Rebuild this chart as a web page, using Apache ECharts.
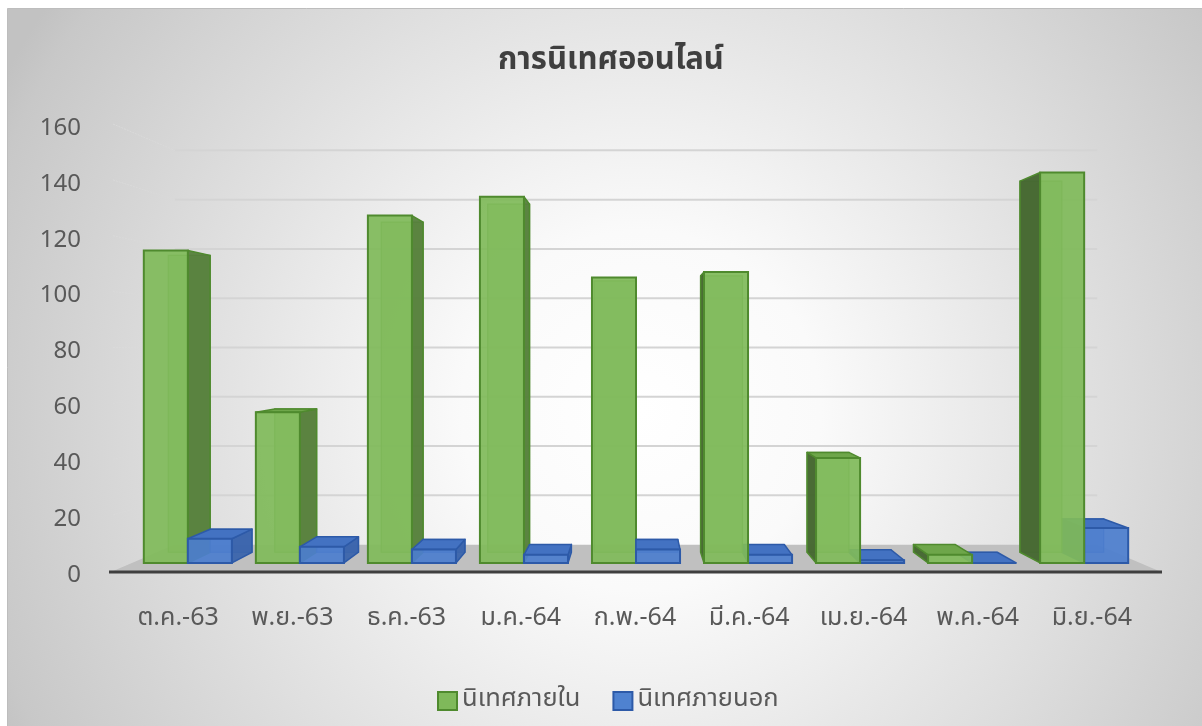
<!DOCTYPE html>
<html><head><meta charset="utf-8">
<script src="https://cdn.jsdelivr.net/npm/echarts@6/dist/echarts.min.js"></script>
<style>html,body{margin:0;padding:0;background:#fff}#c{width:1202px;height:726px}</style>
</head><body><div id="c"></div>
<script>
const chartTitle = 'การนิเทศออนไลน์';
const categories = ['ต.ค.-63','พ.ย.-63','ธ.ค.-63','ม.ค.-64','ก.พ.-64','มี.ค.-64','เม.ย.-64','พ.ค.-64','มิ.ย.-64'];
const seriesNames = ['นิเทศภายใน','นิเทศภายนอก'];
const internalValues = [116, 56, 129, 136, 106, 108, 39, 3, 145];
const externalValues = [9, 6, 5, 3, 5, 3, 1, 0, 13];
const yTicks = [0, 20, 40, 60, 80, 100, 120, 140, 160];

const FONT = "'Noto Sans Thai','Leelawadee UI',Tahoma,'Noto Sans',sans-serif";
const WALL = 0.882, FRONT = 0.964, BACK = 0.916, BAR_W = 0.393;

const palGreen = {front:'rgba(128,186,90,0.93)', side:'rgba(86,128,60,0.95)', sideR:'rgba(70,104,50,0.97)', top:'#6ea64a', back:'rgba(120,176,84,0.6)', edge:'#4f8a2e', inner:'rgba(80,140,50,0.9)'};
const palBlue  = {front:'rgba(76,126,206,0.93)', side:'rgba(58,100,172,0.95)', sideR:'rgba(50,88,160,0.97)', top:'#4372c2', back:'rgba(70,115,195,0.6)', edge:'#2d5aa8', inner:'rgba(45,90,168,0.9)'};

function proj(cs, p, s) {
  const vx = cs.x + cs.width / 2, vy = cs.y + cs.height / 2;
  return [vx + (p[0] - vx) * s, vy + (p[1] - vy) * s];
}

function boxRenderer(side, pal) {
  return function (params, api) {
    const i = api.value(0), v = api.value(1);
    const cs = params.coordSys;
    const base = api.coord([i, 0]);
    const topP = api.coord([i, v]);
    const band = api.size([1, 0])[0];
    const w = band * BAR_W;
    const x0 = side < 0 ? base[0] - w : base[0];
    const x1 = side < 0 ? base[0] : base[0] + w;
    const y0 = base[1], y1 = topP[1];
    const vx = cs.x + cs.width / 2, vy = cs.y + cs.height / 2;
    const F = p => proj(cs, p, FRONT), B = p => proj(cs, p, BACK);
    const fbl = F([x0, y0]), fbr = F([x1, y0]), ftl = F([x0, y1]), ftr = F([x1, y1]);
    const bbl = B([x0, y0]), bbr = B([x1, y0]), btl = B([x0, y1]), btr = B([x1, y1]);
    const right = base[0] > vx + 1;
    const z = (side < 0) ? (right ? 20 : 10) : (right ? 10 : 20);
    const children = [];
    children.push({type:'polygon', z2:z, shape:{points:[bbl, bbr, btr, btl]},
      style:{fill:pal.back, stroke:pal.inner, lineWidth:1.2}});
    if (x1 < vx - 0.5) {
      children.push({type:'polygon', z2:z+1, shape:{points:[fbr, ftr, btr, bbr]},
        style:{fill:pal.side, stroke:pal.edge, lineWidth:1.5, lineJoin:'round'}});
    } else if (x0 > vx + 0.5) {
      children.push({type:'polygon', z2:z+1, shape:{points:[fbl, ftl, btl, bbl]},
        style:{fill:pal.sideR, stroke:pal.edge, lineWidth:1.5, lineJoin:'round'}});
    }
    if (y1 > vy) {
      children.push({type:'polygon', z2:z+2, shape:{points:[ftl, ftr, btr, btl]},
        style:{fill:pal.top, stroke:pal.edge, lineWidth:1.5, lineJoin:'round'}});
    }
    children.push({type:'rect', z2:z+3, shape:{x:ftl[0], y:ftl[1], width:fbr[0]-ftl[0], height:fbr[1]-ftl[1]},
      style:{fill:pal.front, stroke:pal.edge, lineWidth:2}});
    return {type:'group', children};
  };
}

function decoRenderer(params, api) {
  const cs = params.coordSys;
  const children = [];
  const yZero = api.coord([0, 0])[1];
  const fl = [cs.x, yZero], fr = [cs.x + cs.width, yZero];
  const bl = proj(cs, fl, WALL), br = proj(cs, fr, WALL);
  yTicks.forEach(t => {
    const yF = api.coord([0, t])[1];
    const a = proj(cs, [cs.x, yF], WALL), b = proj(cs, [cs.x + cs.width, yF], WALL);
    if (t > 0) {
      children.push({type:'line', z2:1, shape:{x1:a[0], y1:a[1], x2:b[0], y2:b[1]},
        style:{stroke:'#d4d4d4', lineWidth:2}});
    }
    children.push({type:'line', z2:1, shape:{x1:cs.x, y1:yF, x2:a[0], y2:a[1]},
      style:{stroke:'#dadada', lineWidth:1, lineDash:[2, 1]}});
  });
  children.push({type:'polygon', z2:2, shape:{points:[fl, fr, br, bl]},
    style:{fill:'#c0c0c0'}});
  children.push({type:'line', z2:3, shape:{x1:cs.x - 4, y1:yZero + 1, x2:cs.x + cs.width + 3, y2:yZero + 1},
    style:{stroke:'#3f3f3f', lineWidth:3}});
  return {type:'group', children};
}

const chart = echarts.init(document.getElementById('c'), null, {renderer:'canvas'});
chart.setOption({
  backgroundColor:'#ffffff',
  animation:false,
  textStyle:{fontFamily:FONT},
  graphic:[{
    type:'rect', left:7, top:8, z:-10,
    shape:{width:1195, height:718},
    style:{
      fill:{type:'radial', x:0.53, y:0.56, r:1.0,
        colorStops:[{offset:0, color:'#ffffff'},{offset:0.25, color:'#fafafa'},{offset:0.95, color:'#c8c8c8'},{offset:1, color:'#c2c2c2'}]},
      stroke:'#bdbdbd', lineWidth:1
    }
  }],
  title:{text:chartTitle, left:493, top:42,
    textStyle:{fontFamily:FONT, fontSize:31, fontWeight:'bold', color:'#3f3f3f'}},
  legend:{data:seriesNames, top:683, left:432, itemWidth:19, itemHeight:18, itemGap:32,
    icon:'rect', textStyle:{fontFamily:FONT, fontSize:25.5, color:'#595959'}},
  grid:[
    {left:113, right:43, top:124, bottom:155},
    {left:121, right:53, top:124, bottom:155}
  ],
  xAxis:[
    {type:'category', gridIndex:0, data:categories, axisLine:{show:false}, axisTick:{show:false}, axisLabel:{show:false}, splitLine:{show:false}},
    {type:'category', gridIndex:1, data:categories, axisLine:{show:false}, axisTick:{show:false},
      axisLabel:{margin:36, fontSize:25, color:'#595959', fontFamily:FONT}, splitLine:{show:false}}
  ],
  yAxis:[
    {type:'value', gridIndex:0, min:0, max:160, interval:20, axisLine:{show:false}, axisTick:{show:false}, splitLine:{show:false},
      axisLabel:{margin:32, fontSize:24, color:'#595959', fontFamily:FONT, verticalAlign:'top', lineHeight:12}},
    {type:'value', gridIndex:1, min:0, max:160, interval:20, show:false}
  ],
  series:[
    {type:'custom', name:'deco', xAxisIndex:0, yAxisIndex:0, z:1, silent:true, legendHoverLink:false,
      data:[[0, 0]], renderItem:decoRenderer},
    {type:'custom', name:seriesNames[0], xAxisIndex:0, yAxisIndex:0, z:2,
      itemStyle:{color:'#7fb95a', borderColor:'#4f8a2e', borderWidth:1.5},
      data:categories.map((c, i) => [i, internalValues[i]]), renderItem:boxRenderer(-1, palGreen)},
    {type:'custom', name:seriesNames[1], xAxisIndex:0, yAxisIndex:0, z:2,
      itemStyle:{color:'#4f82d0', borderColor:'#2d5aa8', borderWidth:1.5},
      data:categories.map((c, i) => [i, externalValues[i]]), renderItem:boxRenderer(1, palBlue)}
  ]
});
</script></body></html>
